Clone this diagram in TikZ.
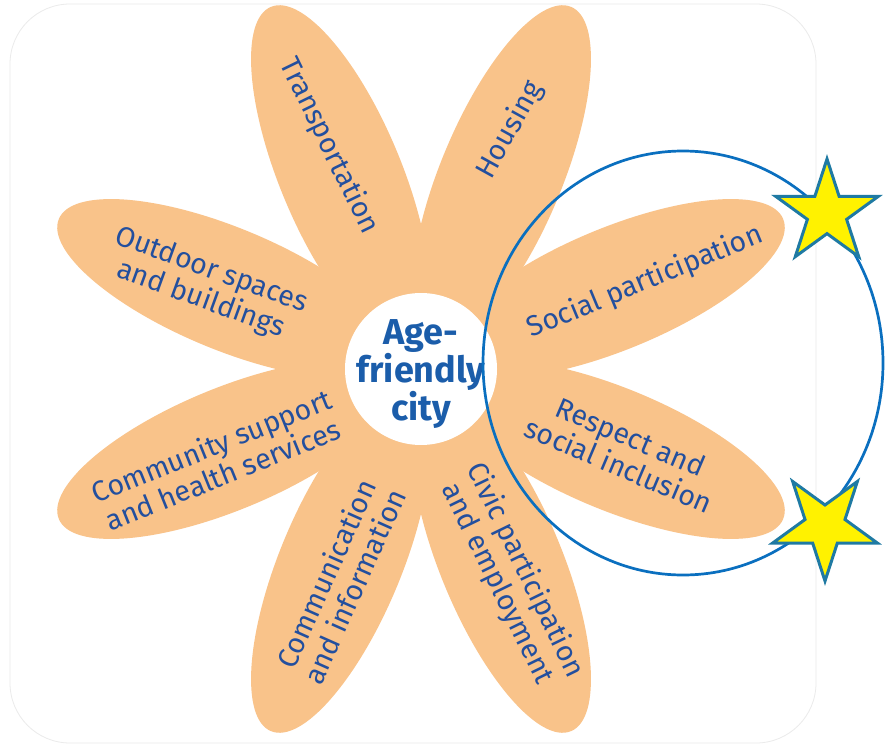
\documentclass[tikz,border=0pt]{standalone}
\usepackage{fontspec}
\setmainfont{Fira Sans}
\usetikzlibrary{shapes.geometric}
\definecolor{petalc}{HTML}{F9C38A}
\definecolor{txtc}{HTML}{234F9E}
\definecolor{ctrc}{HTML}{1B5DAA}
\definecolor{ringc}{HTML}{0A6FBF}
\definecolor{starc}{HTML}{1F7AA3}
\definecolor{framec}{HTML}{EBEBEB}
\tikzset{
  petal/.style={fill=petalc},
  ptext/.style={text=txtc, align=center, inner sep=0pt, font=\fontsize{28.5}{31}\selectfont},
  ctext/.style={text=ctrc, align=center, inner sep=0pt, font=\fontsize{36}{33}\selectfont\bfseries},
  ring/.style={draw=ringc, line width=2.7pt},
  starshape/.style={star, star points=5, star point ratio=2.618, draw=starc, fill=yellow, line width=3pt, inner sep=0pt}
}
\begin{document}
\begin{tikzpicture}[x=1pt,y=1pt]
\useasboundingbox (0,0) rectangle (885,-746);
\fill[white] (0,0) rectangle (885,-746);
\draw[framec, line width=0.8pt, rounded corners=60pt] (10,-4) rectangle (816,-743);
\coordinate (C) at (421,-369);
\foreach \a in {22.5,67.5,...,337.5} {
  \begin{scope}[shift={(C)}, rotate=\a]
    \fill[petal] (210,0) ellipse [x radius=182, y radius=61];
  \end{scope}
}
\node[circle, fill=white, minimum size=152pt, inner sep=0pt] (ctr) at (C) {};
\node[ctext] (agetext) at (421,-374) {Age-\\friendly\\city};
\node[ptext, rotate=-64] (ttrans) at (329,-146) {Transportation};
\node[ptext, rotate=61] (thouse) at (510,-130) {Housing};
\node[ptext, rotate=-20] (tout) at (206,-285) {Outdoor spaces\\and buildings};
\node[ptext, rotate=22] (tcomm) at (217,-460) {Community support\\and health services};
\node[ptext, rotate=22.5] (tsoc) at (645,-282) {Social participation};
\node[ptext, rotate=-23] (tresp) at (625,-451) {Respect and\\social inclusion};
\node[ptext, rotate=-64] (tcivic) at (511,-577) {Civic participation\\and employment};
\node[ptext, rotate=66] (tinfo) at (340,-580) {Communication\\and information};
\draw[ring] (683,-363) ellipse [x radius=200, y radius=212];
\node[starshape, minimum size=108pt] (s1) at (827,-213) {};
\node[starshape, minimum size=110pt, shape border rotate=180] (s2) at (825,-526) {};
\end{tikzpicture}
\end{document}
